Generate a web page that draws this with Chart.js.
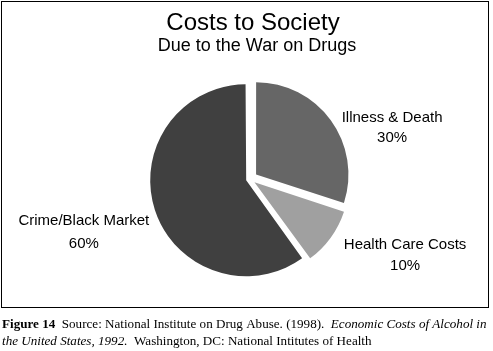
<!DOCTYPE html>
<html>
<head>
<meta charset="utf-8">
<script src="https://cdn.jsdelivr.net/npm/chart.js@4/dist/chart.umd.min.js"></script>
<style>
  html, body { margin: 0; padding: 0; background: #ffffff; }
  #wrap { width: 493px; height: 351px; position: relative; }
  canvas { display: block; }
</style>
</head>
<body>
<div id="wrap"><canvas id="c" width="493" height="351"></canvas></div>
<script>
// ---- data ----
const categories = ["Illness & Death", "Health Care Costs", "Crime/Black Market"];
const shares = [30, 10, 60];
const shareLabels = ["30%", "10%", "60%"];
const chartTitle = "Costs to Society";
const chartSubtitle = "Due to the War on Drugs";
const captionLine1 = [
  { t: "Figure 14", s: "bold" },
  { t: "  Source: National Institute on Drug Abuse. (1998).  ", s: "normal" },
  { t: "Economic Costs of Alcohol in", s: "italic" }
];
const captionLine2 = [
  { t: "the United States, 1992.", s: "italic" },
  { t: "  Washington, DC: National Intitutes of Health", s: "normal" }
];

// ---- styles ----
const sliceColors = ["#666666", "#a0a0a0", "#404040"];
const sliceOffsets = [30, 22, 16];
// label placement relative to the slice's outer bisector point: [dx, dy, lineGap]
const labelNudge = [[62, 1, 20], [75, 12, 21], [-72, 15, 23]];
const SANS = "'Liberation Sans', Arial, sans-serif";
const SERIF = "'Liberation Serif', 'Times New Roman', serif";

const decor = {
  id: "decor",
  afterDraw(chart) {
    const ctx = chart.ctx;
    ctx.save();
    // frame
    ctx.strokeStyle = "#000";
    ctx.lineWidth = 1;
    ctx.strokeRect(1.5, 1.5, 487, 306);
    // titles
    ctx.fillStyle = "#000";
    ctx.textAlign = "center";
    ctx.textBaseline = "alphabetic";
    ctx.font = "24px " + SANS;
    ctx.fillText(chartTitle, 253, 30);
    ctx.font = "18px " + SANS;
    ctx.fillText(chartSubtitle, 257, 51);
    // slice labels
    const meta = chart.getDatasetMeta(0);
    ctx.font = "15px " + SANS;
    meta.data.forEach((arc, i) => {
      const p = arc.getProps(["x", "y", "startAngle", "endAngle", "outerRadius"], true);
      const mid = (p.startAngle + p.endAngle) / 2;
      const r = p.outerRadius + 7;
      const ex = p.x + Math.cos(mid) * r;
      const ey = p.y + Math.sin(mid) * r;
      const [dx, dy, gap] = labelNudge[i];
      ctx.fillText(categories[i], ex + dx, ey + dy);
      ctx.fillText(shareLabels[i], ex + dx, ey + dy + gap);
    });
    // caption
    ctx.textAlign = "left";
    const drawLine = (parts, x, y) => {
      parts.forEach(part => {
        ctx.font = (part.s === "bold" ? "bold " : part.s === "italic" ? "italic " : "") + "13.1px " + SERIF;
        ctx.fillText(part.t, x, y);
        x += ctx.measureText(part.t).width;
      });
    };
    drawLine(captionLine1, 2, 328);
    drawLine(captionLine2, 2, 345);
    ctx.restore();
  }
};

new Chart(document.getElementById("c"), {
  type: "pie",
  data: {
    labels: categories,
    datasets: [{
      data: shares,
      backgroundColor: sliceColors,
      borderWidth: 0,
      offset: sliceOffsets
    }]
  },
  options: {
    responsive: false,
    animation: false,
    radius: 92,
    layout: { padding: { left: 100, right: 93, top: 60, bottom: 53 } },
    plugins: {
      legend: { display: false },
      tooltip: { enabled: false },
      title: { display: false }
    }
  },
  plugins: [decor]
});
</script>
</body>
</html>
